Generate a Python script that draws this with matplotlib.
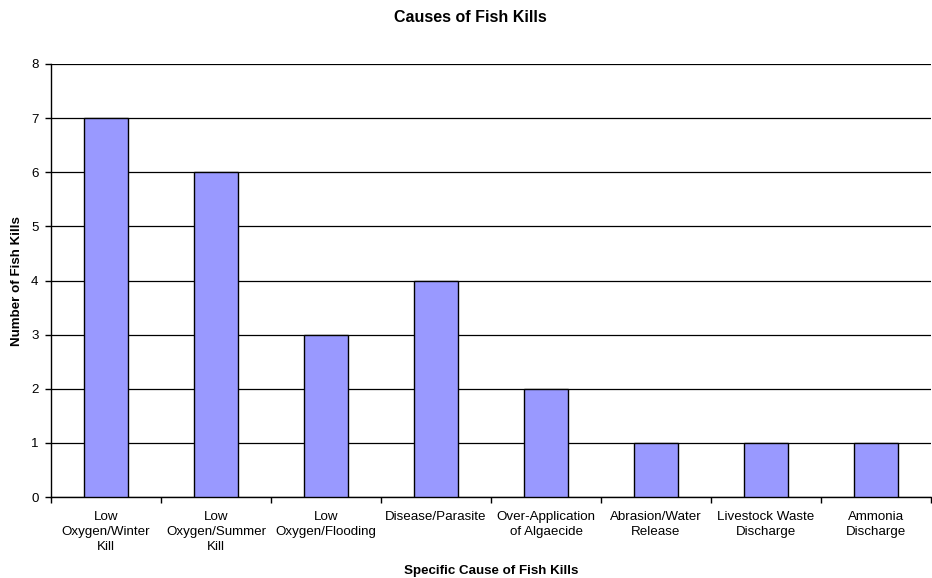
import matplotlib.pyplot as plt
import numpy as np

plt.rcParams['font.family'] = ['Liberation Sans', 'DejaVu Sans']

# Fish kill counts by cause
causes = ['Low\nOxygen/Winter\nKill', 'Low\nOxygen/Summer\nKill', 'Low\nOxygen/Flooding',
          'Disease/Parasite', 'Over-Application\nof Algaecide', 'Abrasion/Water\nRelease',
          'Livestock Waste\nDischarge', 'Ammonia\nDischarge']
kills = [7, 6, 3, 4, 2, 1, 1, 1]

W, H = 932, 578
fig = plt.figure(figsize=(W / 100, H / 100), dpi=100)
ax = fig.add_axes([51 / W, (H - 497) / H, 880 / W, (497 - 64) / H])

x = np.arange(len(causes))
ax.bar(x, kills, width=0.4, color='#9999FF', edgecolor='black', linewidth=1, zorder=3)

ax.set_xlim(-0.5, len(causes) - 0.5)
ax.set_ylim(0, 8)
ax.set_yticks(range(0, 9))
ax.yaxis.grid(True, color='black', linewidth=0.9, zorder=0)

# category labels centred, tick marks between categories
ax.set_xticks(x)
ax.set_xticklabels(causes, fontsize=9.6, linespacing=1.35)
ax.tick_params(axis='x', which='major', length=0, pad=10)
ax.set_xticks(np.arange(-0.5, len(causes)), minor=True)
ax.tick_params(axis='x', which='minor', length=4, width=1, direction='out')
ax.tick_params(axis='y', labelsize=9.6, length=4, width=1, pad=5)

for side in ['top', 'right']:
    ax.spines[side].set_visible(False)
ax.spines['left'].set_linewidth(1)
ax.spines['bottom'].set_linewidth(1)

fig.text(470 / W, 1 - 17 / H, 'Causes of Fish Kills', ha='center', va='center',
         fontsize=11.5, fontweight='bold')
fig.text(17 / W, 1 - 281 / H, 'Number of Fish Kills', ha='center', va='center',
         rotation=90, fontsize=9.6, fontweight='bold')
fig.text(491 / W, 1 - 571 / H, 'Specific Cause of Fish Kills', ha='center', va='center',
         fontsize=9.6, fontweight='bold')

fig.savefig('out.png', dpi=100)
